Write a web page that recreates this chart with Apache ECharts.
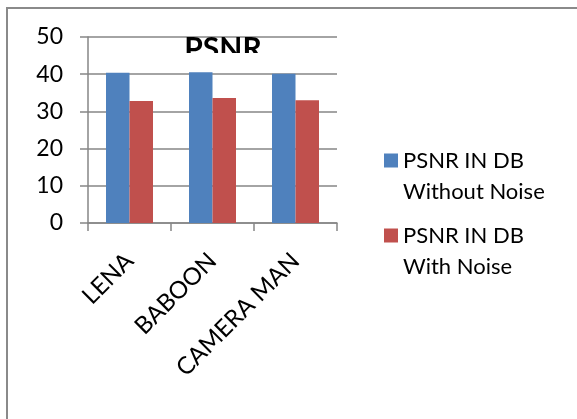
<!DOCTYPE html>
<html>
<head>
<meta charset="utf-8">
<script src="https://cdn.jsdelivr.net/npm/echarts@6/dist/echarts.min.js"></script>
<style>
  html, body { margin: 0; padding: 0; background: #fff; }
  #chart { position: absolute; left: 0; top: 0; width: 577px; height: 419px; }
  #frame {
    position: absolute; left: 6px; top: 7px; width: 571px; height: 412px;
    border-left: 2px solid #8a8a8a; border-top: 2px solid #8a8a8a;
    box-sizing: border-box; pointer-events: none;
  }
</style>
</head>
<body>
<div id="chart"></div>
<div id="frame"></div>
<script>
const categories = ['LENA', 'BABOON', 'CAMERA MAN']
const withoutNoise = [40.4, 40.5, 40.1]
const withNoise = [32.8, 33.6, 33.0]
const seriesNames = ['PSNR IN DB\nWithout Noise', 'PSNR IN DB\nWith Noise']

const font = 'Lato'
const gridColor = '#868686'

const chart = echarts.init(document.getElementById('chart'), null, { renderer: 'canvas' })

const option = {
  animation: false,
  backgroundColor: '#fff',
  title: {
    text: 'PSNR',
    left: 218,
    top: 29,
    textAlign: 'center',
    textStyle: { fontFamily: font, fontSize: 30, fontWeight: 'bold', color: '#000' }
  },
  // the title is cut off at the bottom in the original
  graphic: [{
    type: 'rect',
    z: 100,
    shape: { x: 178, y: 53, width: 92, height: 12 },
    style: { fill: '#fff' }
  }],
  legend: {
    orient: 'vertical',
    left: 379,
    top: 109,
    itemWidth: 14,
    itemHeight: 14,
    itemGap: -18,
    icon: 'rect',
    // blank first line so the icon lines up with the first text line
    formatter: name => '\n' + name,
    textStyle: {
      fontFamily: font,
      fontSize: 22,
      lineHeight: 31,
      color: '#000'
    },
    data: seriesNames
  },
  grid: { left: 88, right: 240, top: 37, bottom: 196 },
  xAxis: {
    type: 'category',
    data: categories,
    axisLine: { lineStyle: { color: gridColor, width: 1.5 } },
    axisTick: { show: true, length: 8, lineStyle: { color: gridColor, width: 1.5 } },
    axisLabel: {
      rotate: 45,
      margin: 34,
      fontFamily: font,
      fontSize: 24,
      color: '#000',
      interval: 0
    }
  },
  yAxis: {
    type: 'value',
    min: 0,
    max: 50,
    interval: 10,
    axisLine: { show: true, lineStyle: { color: gridColor, width: 1.5 } },
    axisTick: { show: true, length: 8, lineStyle: { color: gridColor, width: 1.5 } },
    axisLabel: { margin: 25, fontFamily: font, fontSize: 23, color: '#000' },
    splitLine: { lineStyle: { color: gridColor, width: 1.5 } }
  },
  series: [
    {
      name: seriesNames[0],
      type: 'bar',
      data: withoutNoise,
      barWidth: 23.5,
      barGap: '0%',
      itemStyle: { color: '#4F81BD' }
    },
    {
      name: seriesNames[1],
      type: 'bar',
      data: withNoise,
      barWidth: 23.5,
      barGap: '0%',
      itemStyle: { color: '#C0504D' }
    }
  ]
}

chart.setOption(option)
</script>
</body>
</html>
